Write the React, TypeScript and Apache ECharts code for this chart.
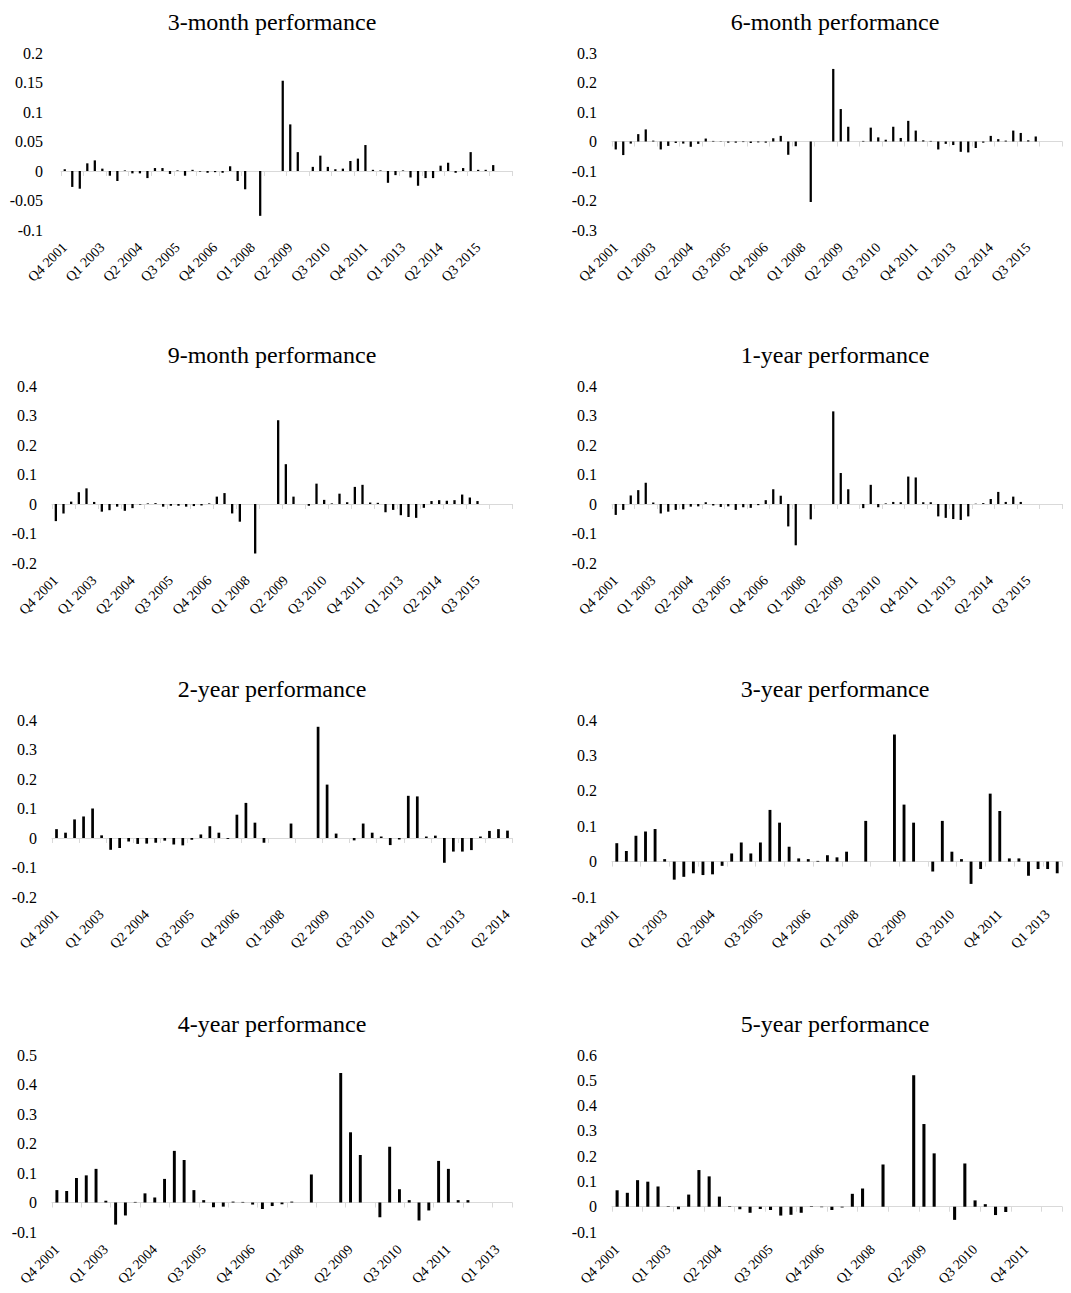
import { useEffect, useRef } from "react";
import * as echarts from "echarts";

// Quarter-end categories, Q4 2001 onward
const quarters: string[] = [
  "Q4 2001",
  "Q1 2002", "Q2 2002", "Q3 2002", "Q4 2002",
  "Q1 2003", "Q2 2003", "Q3 2003", "Q4 2003",
  "Q1 2004", "Q2 2004", "Q3 2004", "Q4 2004",
  "Q1 2005", "Q2 2005", "Q3 2005", "Q4 2005",
  "Q1 2006", "Q2 2006", "Q3 2006", "Q4 2006",
  "Q1 2007", "Q2 2007", "Q3 2007", "Q4 2007",
  "Q1 2008", "Q2 2008", "Q3 2008", "Q4 2008",
  "Q1 2009", "Q2 2009", "Q3 2009", "Q4 2009",
  "Q1 2010", "Q2 2010", "Q3 2010", "Q4 2010",
  "Q1 2011", "Q2 2011", "Q3 2011", "Q4 2011",
  "Q1 2012", "Q2 2012", "Q3 2012", "Q4 2012",
  "Q1 2013", "Q2 2013", "Q3 2013", "Q4 2013",
  "Q1 2014", "Q2 2014", "Q3 2014", "Q4 2014",
  "Q1 2015", "Q2 2015", "Q3 2015", "Q4 2015",
  "Q1 2016", "Q2 2016", "Q3 2016",
];

// Performance by horizon (null = no observation)
const threeMonth: (number | null)[] = [
  0.003, -0.027, -0.03, 0.013, 0.018, 0.004, -0.008, -0.017, 0.001, -0.004,
  -0.004, -0.012, 0.005, 0.005, -0.005, 0.001, -0.008, 0.002, -0.001, -0.003,
  -0.002, -0.003, 0.008, -0.017, -0.031, null, -0.076, null, null, 0.153,
  0.079, 0.032, null, 0.007, 0.026, 0.007, 0.003, 0.004, 0.017, 0.021,
  0.044, 0.002, 0.001, -0.02, -0.007, 0.001, -0.011, -0.025, -0.012, -0.012,
  0.009, 0.014, -0.003, 0.005, 0.032, 0.002, 0.002, 0.01, null, null,
];

const sixMonth: (number | null)[] = [
  -0.027, -0.046, -0.007, 0.025, 0.041, 0.003, -0.027, -0.015, -0.005, -0.007,
  -0.018, -0.008, 0.01, 0.002, -0.001, -0.004, -0.004, -0.002, -0.005, -0.003,
  -0.004, 0.011, 0.019, -0.045, -0.016, null, -0.205, null, null, 0.246,
  0.11, 0.05, null, 0.002, 0.047, 0.014, 0.006, 0.05, 0.012, 0.07,
  0.037, 0.004, 0.002, -0.027, -0.008, -0.012, -0.035, -0.037, -0.022, -0.004,
  0.019, 0.008, 0.003, 0.037, 0.029, 0.004, 0.017, null, null, null,
];

const nineMonth: (number | null)[] = [
  -0.058, -0.032, 0.008, 0.04, 0.053, 0.007, -0.026, -0.021, -0.009, -0.023,
  -0.014, -0.002, 0.002, 0.003, -0.009, -0.006, -0.006, -0.009, -0.007, -0.005,
  0.002, 0.025, 0.037, -0.032, -0.06, null, -0.168, null, null, 0.284,
  0.135, 0.025, null, -0.006, 0.069, 0.014, 0.002, 0.035, 0.006, 0.058,
  0.065, 0.005, 0.004, -0.028, -0.02, -0.038, -0.044, -0.047, -0.013, 0.01,
  0.013, 0.011, 0.013, 0.032, 0.022, 0.01, null, null, null, null,
];

const oneYear: (number | null)[] = [
  -0.037, -0.02, 0.029, 0.047, 0.072, 0.005, -0.032, -0.026, -0.02, -0.018,
  -0.009, -0.008, 0.006, -0.005, -0.01, -0.008, -0.02, -0.011, -0.013, -0.004,
  0.013, 0.05, 0.028, -0.076, -0.14, null, -0.052, null, null, 0.314,
  0.105, 0.05, null, -0.014, 0.065, -0.011, 0.002, 0.007, 0.006, 0.093,
  0.09, 0.006, 0.006, -0.042, -0.047, -0.051, -0.054, -0.042, 0.001, 0.003,
  0.017, 0.041, 0.007, 0.025, 0.007, null, null, null, null, null,
];

const twoYear: (number | null)[] = [
  0.03, 0.018, 0.063, 0.073, 0.1, 0.009, -0.04, -0.034, -0.012, -0.02,
  -0.019, -0.016, -0.009, -0.022, -0.025, -0.006, 0.012, 0.04, 0.018, -0.003,
  0.079, 0.119, 0.052, -0.016, null, null, 0.049, null, null, 0.377,
  0.181, 0.015, null, -0.008, 0.049, 0.018, 0.005, -0.024, -0.005, 0.143,
  0.141, 0.005, 0.008, -0.084, -0.046, -0.046, -0.041, 0.005, 0.024, 0.03,
  0.025,
];

const threeYear: (number | null)[] = [
  0.052, 0.03, 0.073, 0.085, 0.092, 0.007, -0.051, -0.043, -0.033, -0.038,
  -0.036, -0.012, 0.023, 0.054, 0.023, 0.054, 0.146, 0.11, 0.042, 0.009,
  0.007, 0.002, 0.018, 0.012, 0.028, null, 0.115, null, null, 0.359,
  0.161, 0.11, null, -0.028, 0.115, 0.028, 0.007, -0.063, -0.021, 0.192,
  0.143, 0.009, 0.009, -0.04, -0.021, -0.021, -0.033,
];

const fourYear: (number | null)[] = [
  0.042, 0.039, 0.083, 0.092, 0.114, 0.006, -0.075, -0.044, 0.002, 0.031,
  0.017, 0.08, 0.175, 0.144, 0.042, 0.008, -0.016, -0.014, 0.003, 0.002,
  -0.007, -0.022, -0.012, -0.006, 0.003, null, 0.095, null, null, 0.439,
  0.238, 0.161, null, -0.05, 0.189, 0.045, 0.008, -0.061, -0.027, 0.141,
  0.114, 0.008, 0.008, null, null, null, null,
];

const fiveYear: (number | null)[] = [
  0.065, 0.055, 0.105, 0.099, 0.08, 0.002, -0.01, 0.048, 0.145, 0.12,
  0.04, 0.002, -0.01, -0.024, -0.009, -0.013, -0.035, -0.032, -0.024, 0.002,
  -0.002, -0.013, -0.003, 0.051, 0.072, null, 0.167, null, null, 0.52,
  0.327, 0.211, null, -0.052, 0.171, 0.025, 0.01, -0.033, -0.021, null,
  null, null, null, null,
];

const titles = [
  "3-month performance", "6-month performance",
  "9-month performance", "1-year performance",
  "2-year performance", "3-year performance",
  "4-year performance", "5-year performance",
];
const seriesValues = [threeMonth, sixMonth, nineMonth, oneYear, twoYear, threeYear, fourYear, fiveYear];
const yMins = [-0.1, -0.3, -0.2, -0.2, -0.2, -0.1, -0.1, -0.1];
const yMaxs = [0.2, 0.3, 0.4, 0.4, 0.4, 0.4, 0.5, 0.6];
const ySteps = [0.05, 0.1, 0.1, 0.1, 0.1, 0.1, 0.1, 0.1];

// Layout of the 2 x 4 panel grid
const FONT = "Liberation Serif";
const rowTops = [53, 386, 720, 1055];
const plotHeight = 177;
const plotRight = [512, 1062];
const plotLeft = [[61, 612], [52, 612], [52, 612], [52, 612]];
const labelGap = [[18, 15], [15, 15], [15, 15], [15, 15]];
const titleCenters = [267, 830];

const fmt = (v: number) => String(Math.round(v * 1000) / 1000);

function buildOption() {
  const title: any[] = [];
  const grid: any[] = [];
  const xAxis: any[] = [];
  const yAxis: any[] = [];
  const series: any[] = [];

  seriesValues.forEach((values, i) => {
    const row = Math.floor(i / 2);
    const col = i % 2;
    const left = plotLeft[row][col];
    const cats = quarters.slice(0, values.length);

    title.push({
      text: titles[i],
      left: titleCenters[col],
      top: rowTops[row] - 48,
      textAlign: "center",
      textStyle: { fontFamily: FONT, fontSize: 24, fontWeight: "normal", color: "#000" },
    });
    grid.push({ left, top: rowTops[row], width: plotRight[col] - left, height: plotHeight });

    // category labels along the bottom edge of the plot
    xAxis.push({
      type: "category",
      gridIndex: i,
      data: cats,
      position: "bottom",
      axisLine: { show: false, onZero: false },
      axisTick: { show: false },
      splitLine: { show: false },
      axisLabel: { interval: 4, rotate: 45, margin: 15, fontFamily: FONT, fontSize: 14, color: "#000" },
    });
    // zero line with sparse tick marks
    xAxis.push({
      type: "category",
      gridIndex: i,
      data: cats,
      position: "bottom",
      axisLine: { show: true, onZero: true, lineStyle: { color: "#d9d9d9", width: 1 } },
      axisTick: { show: true, interval: 2, length: 5, lineStyle: { color: "#d9d9d9" } },
      axisLabel: { show: false },
      splitLine: { show: false },
    });
    yAxis.push({
      type: "value",
      gridIndex: i,
      min: yMins[i],
      max: yMaxs[i],
      interval: ySteps[i],
      axisLine: { show: false },
      axisTick: { show: false },
      splitLine: { show: false },
      axisLabel: { margin: labelGap[row][col], fontFamily: FONT, fontSize: 16, color: "#000", formatter: fmt },
    });
    series.push({
      type: "bar",
      xAxisIndex: i * 2,
      yAxisIndex: i,
      data: values,
      barWidth: "30%",
      itemStyle: { color: "#000" },
      silent: true,
    });
  });

  return { animation: false, backgroundColor: "#fff", title, grid, xAxis, yAxis, series };
}

export default function App() {
  const ref = useRef<HTMLDivElement>(null);

  useEffect(() => {
    if (!ref.current) return;
    const chart = echarts.init(ref.current, undefined, { renderer: "svg" });
    chart.setOption(buildOption());
    return () => chart.dispose();
  }, []);

  return (
    <div style={{ position: "absolute", left: 0, top: 0, width: 1071, height: 1293, background: "#fff", overflow: "hidden" }}>
      <div ref={ref} style={{ width: 1071, height: 1293 }} />
    </div>
  );
}
